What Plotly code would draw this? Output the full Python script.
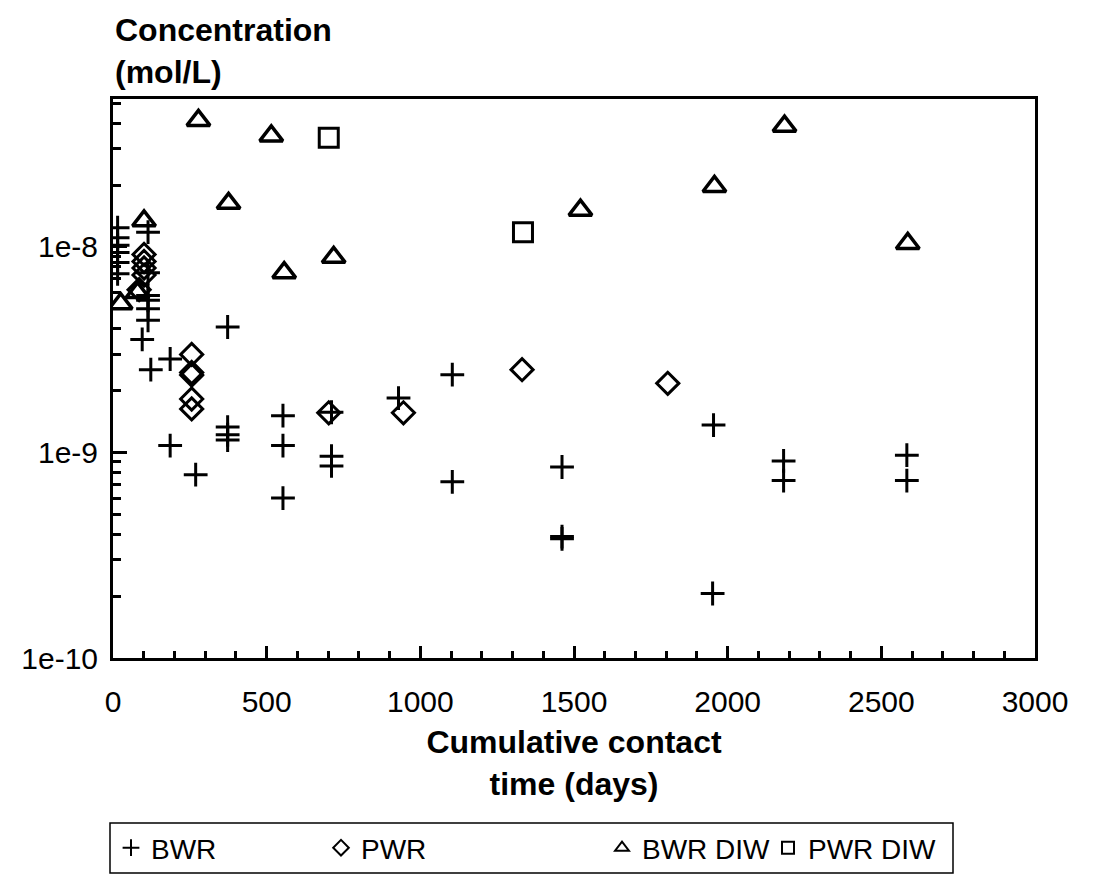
import plotly.graph_objects as go

# ---- data ----
bwr_x = [15, 15, 15, 15, 15, 15, 114, 114, 114, 114, 114, 114, 95, 123, 186, 186, 269,
         373, 373, 373, 373, 553, 553, 553, 711, 711, 711, 929, 1104, 1104, 1461, 1461, 1461,
         1954, 1951, 2182, 2182, 2583, 2583]
bwr_y = [1.24e-8, 1.11e-8, 1.02e-8, 9.4e-9, 8.4e-9, 7.4e-9, 1.18e-8, 7.5e-9, 5.8e-9, 5.5e-9, 5.0e-9, 4.4e-9,
         3.55e-9, 2.53e-9, 2.85e-9, 1.08e-9, 7.8e-10,
         4.08e-9, 1.33e-9, 1.22e-9, 1.15e-9, 1.51e-9, 1.08e-9, 6.0e-10, 1.57e-9, 9.6e-10, 8.6e-10,
         1.84e-9, 2.39e-9, 7.2e-10, 8.5e-10, 3.9e-10, 3.8e-10,
         1.36e-9, 2.06e-10, 9.1e-10, 7.3e-10, 9.7e-10, 7.3e-10]

pwr_x = [101, 101, 101, 101, 85, 256, 256, 256, 256, 256, 702, 945, 1331, 1805]
pwr_y = [9.2e-9, 8.5e-9, 7.9e-9, 7.3e-9, 6.2e-9, 3.0e-9, 2.45e-9, 2.38e-9, 1.82e-9, 1.63e-9,
         1.56e-9, 1.56e-9, 2.53e-9, 2.17e-9]

bwrdiw_x = [25, 80, 101, 278, 376, 515, 557, 718, 1521, 1957, 2185, 2586]
bwrdiw_y = [5.3e-9, 6.0e-9, 1.34e-8, 4.13e-8, 1.63e-8, 3.47e-8, 7.5e-9, 8.9e-9, 1.51e-8, 1.97e-8,
            3.87e-8, 1.04e-8]

pwrdiw_x = [702, 1334]
pwrdiw_y = [3.4e-8, 1.18e-8]

x_ticks = [0, 500, 1000, 1500, 2000, 2500, 3000]
y_ticks = [1e-10, 1e-9, 1e-8]
y_ticktext = ["1e-10", "1e-9", "1e-8"]

FONT = "Liberation Sans, Arial, Helvetica, sans-serif"

fig = go.Figure()
fig.add_trace(go.Scatter(x=bwr_x, y=bwr_y, mode="markers", name="BWR", legend="legend",
                         marker=dict(symbol="cross-thin", size=17, color="black",
                                     line=dict(width=3, color="black"))))
fig.add_trace(go.Scatter(x=pwr_x, y=pwr_y, mode="markers", name="PWR", legend="legend2",
                         marker=dict(symbol="diamond-open", size=17, color="black",
                                     line=dict(width=3, color="black"))))
fig.add_trace(go.Scatter(x=bwrdiw_x, y=bwrdiw_y, mode="markers", name="BWR DIW", legend="legend3",
                         marker=dict(symbol="triangle-up-open", size=20, color="black",
                                     line=dict(width=3.5, color="black"))))
fig.add_trace(go.Scatter(x=pwrdiw_x, y=pwrdiw_y, mode="markers", name="PWR DIW", legend="legend4",
                         marker=dict(symbol="square-open", size=19, color="black",
                                     line=dict(width=3, color="black"))))

minor_y = []
for e in (-10, -9, -8):
    for m in range(2, 10):
        v = m * 10.0 ** e
        if v < 5.3e-8:
            minor_y.append(v)

L, R, T, B = 105, 78, 91, 238
W, H = 1105, 888
pw = W - L - R
ph = H - T - B


def px_x(p):
    return (p - L) / pw


def px_y(p):
    return (H - B - p) / ph


leg_common = dict(orientation="h", yanchor="middle", y=px_y(840), xanchor="left",
                  bgcolor="rgba(0,0,0,0)", borderwidth=0, font=dict(size=28),
                  itemsizing="constant")

fig.update_layout(
    width=W, height=H,
    margin=dict(l=L, r=R, t=T, b=B),
    paper_bgcolor="white", plot_bgcolor="white",
    font=dict(family=FONT, size=30, color="black"),
    showlegend=True,
    legend=dict(leg_common, x=px_x(103)),
    legend2=dict(leg_common, x=px_x(313)),
    legend3=dict(leg_common, x=px_x(594)),
    legend4=dict(leg_common, x=px_x(760)),
    xaxis=dict(range=[0, 3000], tickvals=x_ticks, ticks="inside", ticklen=12, tickwidth=2.5,
               tickcolor="black", showline=True, linewidth=3, linecolor="black", mirror=True,
               showgrid=False, zeroline=False, ticklabelstandoff=15, automargin=False,
               minor=dict(dtick=100, ticks="inside", ticklen=7, tickwidth=2.5, tickcolor="black",
                          showgrid=False),
               title=dict(text="<b>Cumulative contact<br>time (days)</b>",
                          font=dict(size=32), standoff=14)),
    yaxis=dict(type="log", range=[-10, -7.28], tickmode="array", tickvals=y_ticks,
               ticktext=y_ticktext, ticks="inside", ticklen=14, tickwidth=2.5,
               tickcolor="black", showline=True, linewidth=3, linecolor="black", mirror=True,
               showgrid=False, zeroline=False, ticklabelstandoff=6, automargin=False,
               minor=dict(tickmode="array", tickvals=minor_y, ticks="inside", ticklen=8,
                          tickwidth=2.5, tickcolor="black", showgrid=False)),
)

# legend frame
fig.add_shape(type="rect", xref="paper", yref="paper",
              x0=px_x(102), x1=px_x(945), y0=px_y(865), y1=px_y(815),
              line=dict(color="black", width=1.5), fillcolor="rgba(0,0,0,0)")

fig.add_annotation(text="<b>Concentration<br>(mol/L)</b>", xref="paper", yref="paper",
                   x=px_x(105), y=px_y(43), xanchor="left", yanchor="middle", showarrow=False,
                   align="left", font=dict(size=32, family=FONT))

fig.write_html("out.html")
